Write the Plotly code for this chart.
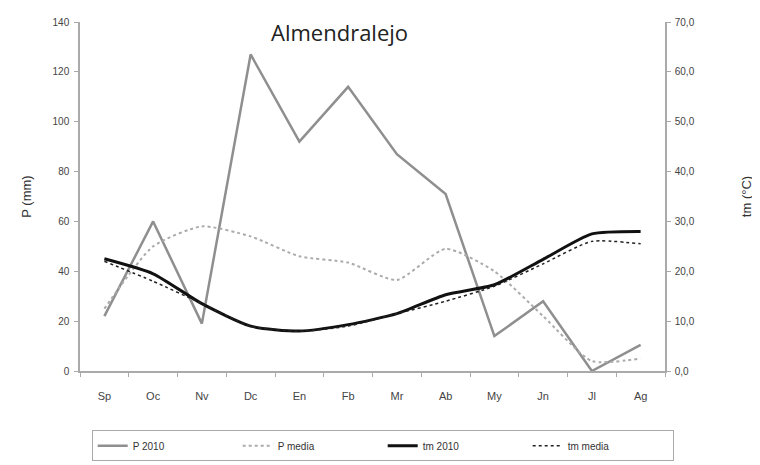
import plotly.graph_objects as go

# Monthly data, hydrological year (Sep - Aug)
months = ["Sp", "Oc", "Nv", "Dc", "En", "Fb", "Mr", "Ab", "My", "Jn", "Jl", "Ag"]
p_2010 = [22, 60, 19, 127, 92, 114, 87, 71, 14, 28, 0, 10.5]
p_media = [25, 50, 58, 54, 46, 43.5, 36.5, 49, 40, 22, 4, 5]
tm_2010 = [22.5, 19.5, 13.5, 9, 8, 9.3, 11.5, 15.3, 17.3, 22.4, 27.5, 28]
tm_media = [22, 18, 13.5, 9, 8, 9, 11.5, 14, 17, 21.5, 26, 25.5]

tick_font = dict(family="Liberation Sans", size=10, color="#444")

fig = go.Figure()
fig.add_trace(go.Scatter(x=months, y=p_2010, name="P 2010", mode="lines",
                         line=dict(color="#8f8f8f", width=2.5)))
fig.add_trace(go.Scatter(x=months, y=p_media, name="P media", mode="lines",
                         line=dict(color="#ababab", width=2, dash="dot", shape="spline", smoothing=0.6)))
fig.add_trace(go.Scatter(x=months, y=tm_2010, name="tm 2010", mode="lines", yaxis="y2",
                         line=dict(color="#111111", width=3, shape="spline", smoothing=0.6)))
fig.add_trace(go.Scatter(x=months, y=tm_media, name="tm media", mode="lines", yaxis="y2",
                         line=dict(color="#222222", width=1.5, dash="dot", shape="spline", smoothing=0.6)))

fig.update_layout(
    width=760, height=465,
    margin=dict(l=72, r=103, t=14, b=96),
    plot_bgcolor="white", paper_bgcolor="white",
    separators=", ",
    showlegend=True,
    xaxis=dict(type="category", range=[-0.5, 11.5], tickson="boundaries",
               showline=True, linecolor="#aaaaaa", linewidth=1.5,
               ticks="outside", ticklen=4, tickcolor="#aaaaaa", automargin=False,
               ticklabelstandoff=14,
               showgrid=False, tickfont=dict(family="Liberation Sans", size=11, color="#444")),
    yaxis=dict(range=[0, 140], dtick=20, showline=True, linecolor="#aaaaaa", linewidth=1.5,
               ticks="outside", ticklen=4, tickcolor="#aaaaaa", showgrid=False, zeroline=False,
               tickfont=tick_font, automargin=False, ticklabelstandoff=3,
               title=dict(text="P (mm)", font=dict(family="Liberation Sans", size=13, color="#333"),
                          standoff=18)),
    yaxis2=dict(range=[0, 70], dtick=10, tickformat=".1f", overlaying="y", side="right",
                showline=True, linecolor="#aaaaaa", linewidth=1.5,
                ticks="outside", ticklen=4, tickcolor="#aaaaaa", showgrid=False, zeroline=False,
                tickfont=tick_font, automargin=False, ticklabelstandoff=2,
                title=dict(text="tm (°C)", font=dict(family="Liberation Sans", size=13, color="#333"),
                           standoff=48)),
    legend=dict(orientation="h", x=0.02, xanchor="left", y=-0.17, yanchor="top",
                bordercolor="#aaaaaa", borderwidth=1, entrywidth=100,
                font=dict(family="Liberation Sans", size=10, color="#333")),
    annotations=[dict(text="Almendralejo", x=0.444, y=1.02, xref="paper", yref="paper",
                      showarrow=False, font=dict(family="Open Sans", size=22, color="#222"))],
)

fig.write_html("out.html")
